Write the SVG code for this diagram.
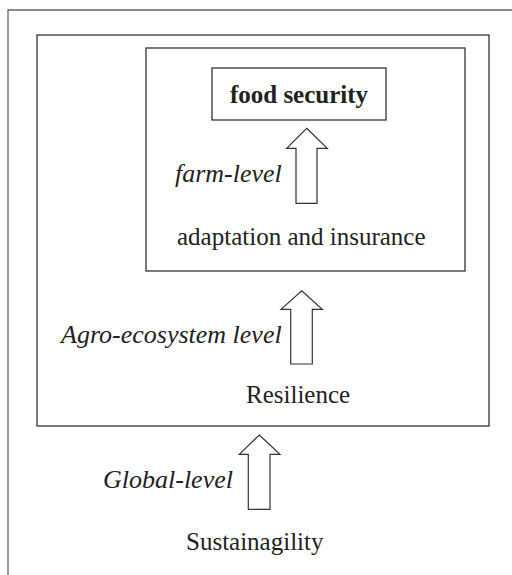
<svg xmlns="http://www.w3.org/2000/svg" width="512" height="575" viewBox="0 0 512 575">
<style>
.box{fill:none;stroke:#333;stroke-width:1.3}
.frame{fill:none;stroke:#666;stroke-width:1.3}
.arrow{fill:#fff;stroke:#333;stroke-width:1.2;stroke-linejoin:miter}
text{font-family:"Liberation Serif","Times New Roman",serif;font-size:25px;fill:#222}
.it{font-style:italic;font-size:26px}
.b{font-weight:bold}
</style>
<rect width="512" height="575" fill="#fff"/>
<path class="frame" d="M8,575 V10 H512"/>
<g id="resilience">
<rect class="box" x="37" y="35" width="452" height="391"/>
<text x="246" y="403">Resilience</text>
</g>
<g id="adaptation">
<rect class="box" x="146" y="48" width="319" height="223"/>
<text x="177" y="245">adaptation and insurance</text>
</g>
<g id="food-security">
<rect class="box" x="212" y="68" width="174" height="52"/>
<text class="b" x="299" y="103" text-anchor="middle">food security</text>
</g>
<g id="sustainagility">
<text x="186" y="550">Sustainagility</text>
</g>
<g id="connectors">
<polygon class="arrow" points="306.7,128.3 327.3,148.3 317,148.3 317,203.3 296,203.3 296,148.3 286.7,148.3"/>
<polygon class="arrow" points="301.7,290.7 322.3,309.3 312.3,309.3 312.3,364 290.7,364 290.7,309.3 281,309.3"/>
<polygon class="arrow" points="259.3,435 280,454.3 270,454.3 270,509.3 248.3,509.3 248.3,454.3 239.3,454.3"/>
<text class="it" x="175" y="182">farm-level</text>
<text class="it" x="61" y="343">Agro-ecosystem level</text>
<text class="it" x="103" y="488">Global-level</text>
</g>
</svg>
